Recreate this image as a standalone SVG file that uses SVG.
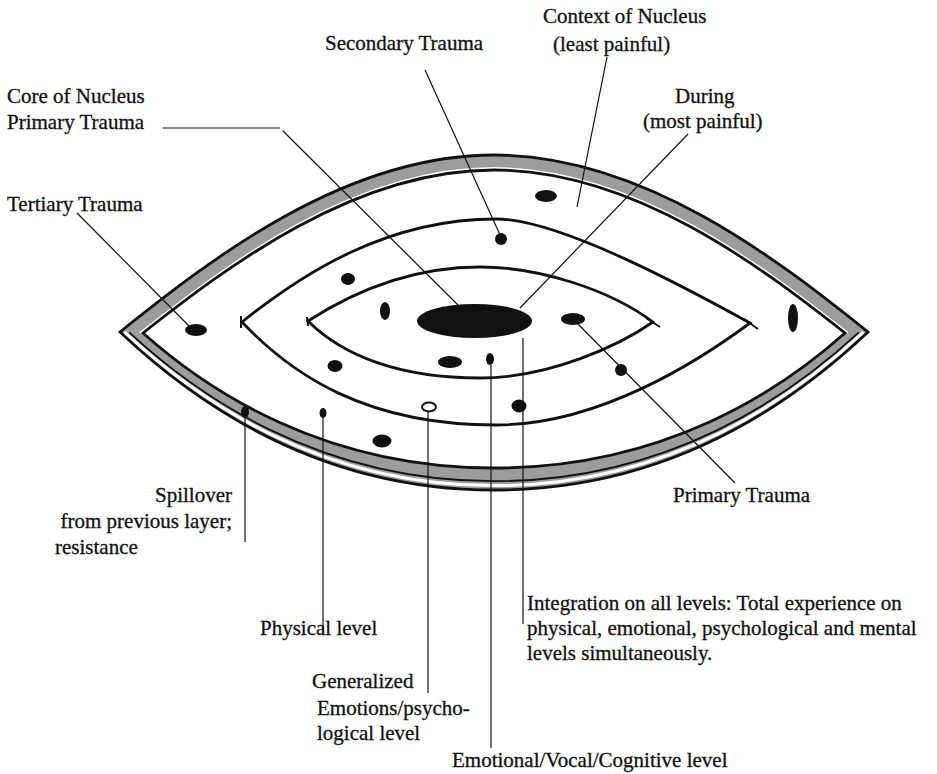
<svg xmlns="http://www.w3.org/2000/svg" width="937" height="774" viewBox="0 0 937 774">
<style>
  .lbl { font-family: "Liberation Serif", "Times New Roman", serif; font-size: 21px; fill: #111; stroke: #111; stroke-width: 0.3; }
  .ring { fill: none; stroke: #111; stroke-width: 2.8; stroke-linejoin: miter; }
  .blob { fill: #111; }
  .con { fill: none; stroke: #111; stroke-width: 1.2; }
  .tick { fill: none; stroke: #111; stroke-width: 2; }
</style>
<rect width="937" height="774" fill="#fff"/>

<g id="outer-layer">
  <path d="M120,332 C210,260 344,155 494,155 C644,155 778,260 868,332 C798,398 674,490 494,490 C314,490 190,398 120,332 Z" fill="#9c9c9c" stroke="#111" stroke-width="2.8"/>
  <path d="M143,333 C227,267 354,170 494,170 C634,170 761,267 845,333 C780,391 664,468 494,468 C324,468 208,391 143,333 Z" fill="#fff" stroke="none"/>
  <path d="M140,333 C225,266 353,168 494,168 C635,168 763,266 848,333" fill="none" stroke="#fff" stroke-width="1.8"/>
  <path d="M124.6,332.2 C193.6,396.6 316,485.6 494,485.6 C672,485.6 794.4,396.6 863.4,332.2" fill="none" stroke="#fff" stroke-width="3"/>
  <path d="M129.2,332.4 C197.2,395.2 318,481.2 494,481.2 C670,481.2 790.8,395.2 858.8,332.4" fill="none" stroke="#111" stroke-width="1.8"/>
  <path d="M143,333 C227,267 354,170 494,170 C634,170 761,267 845,333 C780,391 664,468 494,468 C324,468 208,391 143,333 Z" class="ring"/>
</g>

<g id="middle-layer">
  <path d="M242,322 C302,274 386,219 496,219 C560,219 690,290 750,323 C700,360 600,425 496,425 C366,425 292,375 242,322 Z" class="ring"/>
  <line x1="241" y1="316" x2="241" y2="328" class="tick"/>
  <line x1="744" y1="319" x2="758" y2="329" class="tick"/>
</g>

<g id="inner-layer">
  <path d="M308,321 C353,292 410,267 480,267 C540,267 610,290 653,322 C620,345 550,378 480,378 C400,378 343,356 308,321 Z" class="ring"/>
  <line x1="646" y1="318" x2="660" y2="327" class="tick"/>
  <line x1="307" y1="317" x2="308" y2="326" class="tick"/>
</g>

<g id="nucleus">
  <ellipse cx="474.5" cy="321" rx="57.5" ry="17" class="blob"/>
</g>

<g id="trauma-dots">
  <ellipse cx="546" cy="196" rx="11" ry="6" class="blob"/>
  <ellipse cx="501" cy="239" rx="6" ry="6" class="blob"/>
  <ellipse cx="348" cy="279" rx="7" ry="6" class="blob"/>
  <ellipse cx="385" cy="311" rx="5" ry="9" class="blob"/>
  <ellipse cx="196" cy="330" rx="11" ry="6" class="blob"/>
  <ellipse cx="573" cy="319" rx="12" ry="6" class="blob"/>
  <ellipse cx="793" cy="318" rx="5" ry="14" class="blob"/>
  <ellipse cx="335" cy="366" rx="7.5" ry="6" class="blob"/>
  <ellipse cx="450" cy="362" rx="12" ry="6" class="blob"/>
  <ellipse cx="490" cy="359" rx="4" ry="6" class="blob"/>
  <ellipse cx="621" cy="370" rx="6" ry="6" class="blob"/>
  <ellipse cx="519" cy="406" rx="7.5" ry="6.5" class="blob"/>
  <ellipse cx="429" cy="407" rx="7" ry="4.5" fill="#fff" stroke="#111" stroke-width="2"/>
  <ellipse cx="323" cy="413" rx="3.5" ry="5" class="blob"/>
  <ellipse cx="245" cy="412" rx="4" ry="6" class="blob"/>
  <ellipse cx="382" cy="441" rx="9.5" ry="6.5" class="blob"/>
</g>

<g id="connectors">
  <polyline points="163,128 280,128" class="con" stroke-width="1.5"/>
  <line x1="283" y1="131" x2="458" y2="305" class="con" stroke-width="1.5"/>
  <line x1="425" y1="70" x2="501" y2="237" class="con" stroke-width="2"/>
  <line x1="607" y1="57" x2="577" y2="207" class="con"/>
  <line x1="688" y1="134" x2="520" y2="308" class="con" stroke-width="1.5"/>
  <line x1="77" y1="213" x2="189" y2="326" class="con" stroke-width="1.5"/>
  <line x1="576" y1="322" x2="735" y2="483" class="con" stroke-width="1.5"/>
  <line x1="245" y1="410" x2="245" y2="542" class="con" stroke-width="1.5"/>
  <line x1="323" y1="416" x2="323" y2="632" class="con" stroke="#444"/>
  <line x1="428" y1="411" x2="428" y2="693" class="con" stroke="#333"/>
  <line x1="491" y1="365" x2="491" y2="748" class="con" stroke-width="2.6"/>
  <line x1="523" y1="338" x2="523" y2="624" class="con" stroke-width="1"/>
</g>

<g id="label-secondary"><text class="lbl" x="325" y="50">Secondary Trauma</text></g>
<g id="label-context"><text class="lbl" x="543" y="23">Context of Nucleus</text><text class="lbl" x="553" y="51">(least painful)</text></g>
<g id="label-core"><text class="lbl" x="7" y="103">Core of Nucleus</text><text class="lbl" x="7" y="129">Primary Trauma</text></g>
<g id="label-during"><text class="lbl" x="675" y="103">During</text><text class="lbl" x="643" y="128">(most painful)</text></g>
<g id="label-tertiary"><text class="lbl" x="7" y="211">Tertiary Trauma</text></g>
<g id="label-primary"><text class="lbl" x="673" y="502">Primary Trauma</text></g>
<g id="label-spillover"><text class="lbl" x="232" y="502" text-anchor="end">Spillover</text><text class="lbl" x="232" y="528" text-anchor="end">from previous layer;</text><text class="lbl" x="55" y="554">resistance</text></g>
<g id="label-physical"><text class="lbl" x="260" y="635">Physical level</text></g>
<g id="label-generalized"><text class="lbl" x="312" y="688">Generalized</text><text class="lbl" x="317" y="715">Emotions/psycho-</text><text class="lbl" x="317" y="740">logical level</text></g>
<g id="label-emotional"><text class="lbl" x="452" y="767">Emotional/Vocal/Cognitive level</text></g>
<g id="label-integration"><text class="lbl" x="527" y="610">Integration on all levels: Total experience on</text><text class="lbl" x="527" y="635">physical, emotional, psychological and mental</text><text class="lbl" x="527" y="660">levels simultaneously.</text></g>
</svg>
